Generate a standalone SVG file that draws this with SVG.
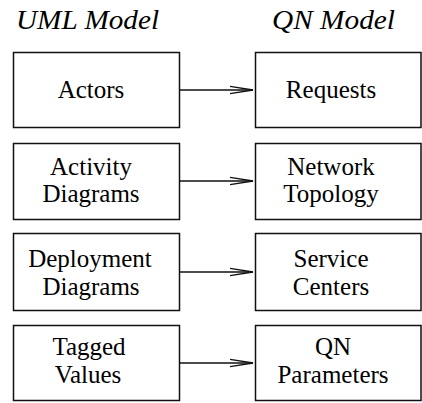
<svg xmlns="http://www.w3.org/2000/svg" width="422" height="403" viewBox="0 0 422 403">
<style>
  .box{fill:#fff;stroke:#111;stroke-width:1.5}
  .t{font-family:"Liberation Serif","Times New Roman",serif;font-size:25px;fill:#000;text-anchor:middle}
  .h{font-family:"Liberation Serif","Times New Roman",serif;font-size:28px;font-style:italic;fill:#000}
  .c{stroke:#111;stroke-width:1.3;fill:none}
</style>
<defs>
  <marker id="arr" markerUnits="userSpaceOnUse" markerWidth="26" markerHeight="12" refX="23" refY="6" orient="auto">
    <path d="M0,2.3 L23,6 L0,9.7" fill="none" stroke="#111" stroke-width="1.3"/>
  </marker>
</defs>
<text class="h" x="16" y="29" textLength="143" lengthAdjust="spacingAndGlyphs">UML Model</text>
<text class="h" x="272" y="29" textLength="123" lengthAdjust="spacingAndGlyphs">QN Model</text>

<g id="actors"><rect class="box" x="13.5" y="52.5" width="166" height="75"/><text class="t" x="91" y="98">Actors</text></g>
<g id="requests"><rect class="box" x="255.5" y="52.5" width="165.5" height="75"/><text class="t" x="331" y="98">Requests</text></g>

<g id="activity"><rect class="box" x="13.5" y="143.5" width="166" height="76"/><text class="t" x="91" y="175">Activity</text><text class="t" x="91" y="202">Diagrams</text></g>
<g id="network"><rect class="box" x="255.5" y="143.5" width="165.5" height="76"/><text class="t" x="331" y="175">Network</text><text class="t" x="331" y="202">Topology</text></g>

<g id="deployment"><rect class="box" x="13.5" y="233.5" width="166" height="77"/><text class="t" x="90" y="267">Deployment</text><text class="t" x="91" y="295">Diagrams</text></g>
<g id="service"><rect class="box" x="255.5" y="233.5" width="165.5" height="77"/><text class="t" x="331" y="267">Service</text><text class="t" x="331" y="295">Centers</text></g>

<g id="tagged"><rect class="box" x="13.5" y="325.5" width="166" height="75"/><text class="t" x="89" y="355">Tagged</text><text class="t" x="88" y="383">Values</text></g>
<g id="qnparams"><rect class="box" x="255.5" y="325.5" width="165.5" height="75"/><text class="t" x="333" y="355">QN</text><text class="t" x="333" y="383">Parameters</text></g>

<g id="connectors">
  <line class="c" x1="180" y1="90" x2="253" y2="90" marker-end="url(#arr)"/>
  <line class="c" x1="180" y1="181" x2="253" y2="181" marker-end="url(#arr)"/>
  <line class="c" x1="180" y1="272" x2="253" y2="272" marker-end="url(#arr)"/>
  <line class="c" x1="180" y1="363" x2="253" y2="363" marker-end="url(#arr)"/>
</g>
</svg>
